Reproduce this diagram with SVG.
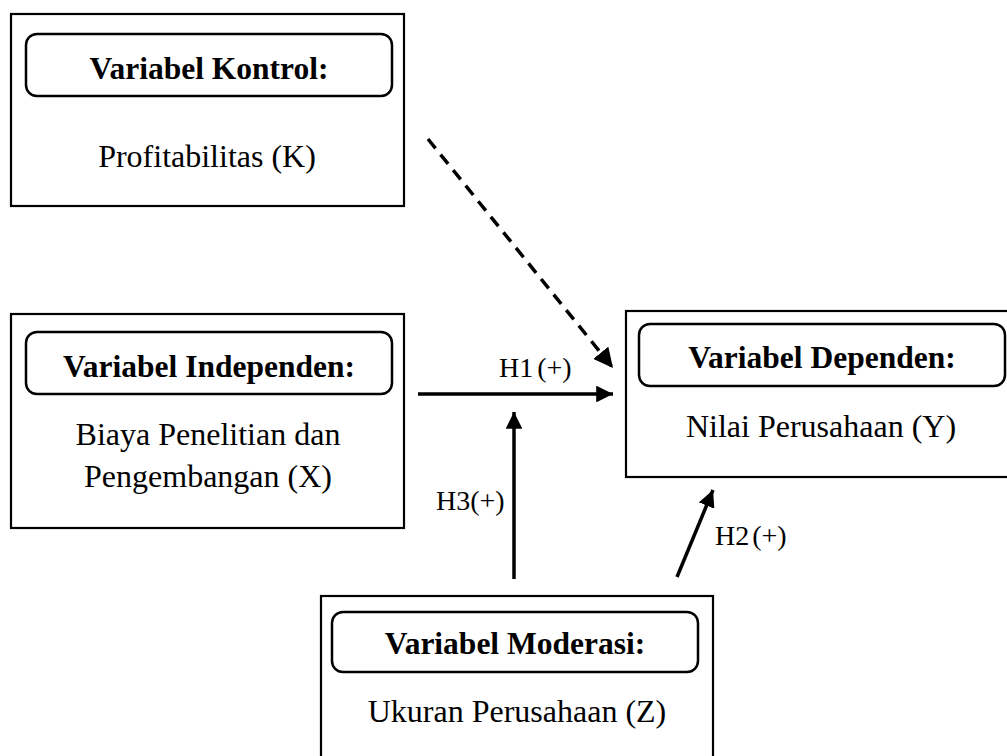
<svg xmlns="http://www.w3.org/2000/svg" width="1007" height="756" viewBox="0 0 1007 756">
<style>
.outer{fill:#fff;stroke:#000;stroke-width:2.2}
.inner{fill:none;stroke:#000;stroke-width:2.5}
.title{font-family:"Liberation Serif","Times New Roman",serif;font-weight:bold;font-size:31.5px;text-anchor:middle;fill:#000}
.body{font-family:"Liberation Serif","Times New Roman",serif;font-size:32px;text-anchor:middle;fill:#000}
.lbl{font-family:"Liberation Serif","Times New Roman",serif;font-size:28px;fill:#000}
.conn{stroke:#000;stroke-width:3.5;fill:none}
</style>
<defs>
<marker id="ah" viewBox="0 0 10 10" refX="10" refY="5" markerWidth="4.8" markerHeight="4.8" markerUnits="strokeWidth" orient="auto">
<path d="M0,0 L10,5 L0,10 z" fill="#000"/>
</marker>
<marker id="ahd" viewBox="0 0 10 10" refX="10" refY="5" markerWidth="5.6" markerHeight="5.6" markerUnits="strokeWidth" orient="auto">
<path d="M0,0 L10,5 L0,10 z" fill="#000"/>
</marker>
</defs>
<g id="node-kontrol">
<rect class="outer" x="11" y="14" width="393" height="192"/>
<rect class="inner" x="26" y="34" width="366" height="62" rx="11"/>
<text class="title" x="209" y="79">Variabel Kontrol:</text>
<text class="body" x="207" y="167">Profitabilitas (K)</text>
</g>
<g id="node-independen">
<rect class="outer" x="11" y="314" width="393" height="214"/>
<rect class="inner" x="26" y="332" width="366" height="62" rx="11"/>
<text class="title" x="209" y="377">Variabel Independen:</text>
<text class="body" x="208" y="445">Biaya Penelitian dan</text>
<text class="body" x="208" y="487">Pengembangan (X)</text>
</g>
<g id="node-dependen">
<rect class="outer" x="626" y="311" width="390" height="166"/>
<rect class="inner" x="639" y="324" width="366" height="62" rx="11"/>
<text class="title" x="822" y="368">Variabel Dependen:</text>
<text class="body" x="821" y="437">Nilai Perusahaan (Y)</text>
</g>
<g id="node-moderasi">
<rect class="outer" x="321" y="596" width="392" height="175"/>
<rect class="inner" x="332" y="612" width="366" height="60" rx="11"/>
<text class="title" x="515" y="654">Variabel Moderasi:</text>
<text class="body" x="517" y="722">Ukuran Perusahaan (Z)</text>
</g>
<g id="connectors">
<line class="conn" x1="428" y1="139" x2="613" y2="368" stroke-dasharray="12,8" stroke-width="3" marker-end="url(#ahd)"/>
<line class="conn" x1="418" y1="394" x2="613" y2="394" marker-end="url(#ah)"/>
<line class="conn" x1="514" y1="579" x2="514" y2="412" marker-end="url(#ah)"/>
<line class="conn" x1="677" y1="577" x2="713" y2="490" marker-end="url(#ah)"/>
<text class="lbl" x="499" y="377">H1<tspan dx="4">(+)</tspan></text>
<text class="lbl" x="436" y="510">H3(+)</text>
<text class="lbl" x="715" y="545">H2<tspan dx="3">(+)</tspan></text>
</g>
</svg>
